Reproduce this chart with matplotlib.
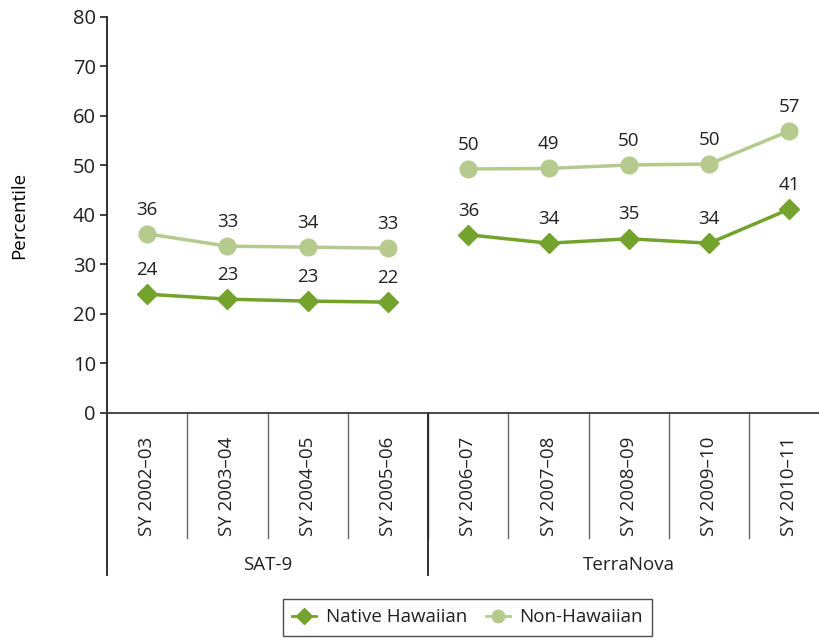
import numpy as np
import matplotlib.pyplot as plt

years = ['SY 2002–03', 'SY 2003–04', 'SY 2004–05', 'SY 2005–06', 'SY 2006–07',
         'SY 2007–08', 'SY 2008–09', 'SY 2009–10', 'SY 2010–11']
groups = ['SAT-9', 'TerraNova']
group_sizes = [4, 5]

native = [24.0, 23.0, 22.6, 22.4, 36.0, 34.3, 35.2, 34.3, 41.2]
native_lbl = [24, 23, 23, 22, 36, 34, 35, 34, 41]
non_hawaiian = [36.2, 33.7, 33.5, 33.3, 49.3, 49.4, 50.1, 50.3, 57.0]
non_hawaiian_lbl = [36, 33, 34, 33, 50, 49, 50, 50, 57]

dark = '#73A22D'
light = '#B6CA8E'
ink = '#231F20'

plt.rcParams['font.family'] = ['Open Sans', 'DejaVu Sans']
plt.rcParams['text.color'] = ink

fig = plt.figure(figsize=(8.2, 6.41), dpi=100)
ax = fig.add_axes([0.1305, 0.3557, 0.8695, 0.6178])

x = np.arange(len(years))
idx1 = np.arange(group_sizes[0])
idx2 = np.arange(group_sizes[0], len(years))
native = np.array(native)
non_hawaiian = np.array(non_hawaiian)

for idx in (idx1, idx2):
    ax.plot(x[idx], non_hawaiian[idx], color=light, lw=2.5, marker='o', ms=12,
            zorder=3)
    ax.plot(x[idx], native[idx], color=dark, lw=2.5, marker='D', ms=10,
            zorder=3)

fs = 13.5
for i in x:
    ax.annotate(str(non_hawaiian_lbl[i]), (i, non_hawaiian[i]), xytext=(0, 11),
                textcoords='offset points', ha='center', va='bottom', fontsize=fs)
    ax.annotate(str(native_lbl[i]), (i, native[i]), xytext=(0, 11),
                textcoords='offset points', ha='center', va='bottom', fontsize=fs)

ax.set_ylim(0, 80)
ax.set_xlim(-0.5, 8.38)
ax.set_yticks(range(0, 81, 10))
ax.set_xticks(x)
ax.set_xticklabels(years, rotation=90, fontsize=fs)
ax.tick_params(axis='x', length=0, pad=17, colors=ink)
ax.tick_params(axis='y', length=5, width=1.2, colors=ink, labelsize=14.5, pad=3)
ax.set_ylabel('Percentile', fontsize=fs, labelpad=32)

for s in ['top', 'right']:
    ax.spines[s].set_visible(False)
ax.spines['left'].set_color(ink)
ax.spines['left'].set_linewidth(1.3)
ax.spines['bottom'].set_color('#3a3a3a')
ax.spines['bottom'].set_linewidth(1.3)

# separators under the axis
tr = ax.get_xaxis_transform()
for k in range(len(years)):
    ax.plot([k + 0.5, k + 0.5], [0, -0.316], transform=tr, clip_on=False,
            color='#666666', lw=1)
ax.plot([-0.5, -0.5], [0, -0.409], transform=tr, clip_on=False, color=ink, lw=1.3)
ax.plot([3.5, 3.5], [0, -0.409], transform=tr, clip_on=False, color=ink, lw=1.3)

start = 0
for g, n in zip(groups, group_sizes):
    ax.text(start + (n - 1) / 2, -0.384, g, transform=tr, ha='center',
            va='center', fontsize=fs)
    start += n

h1, = ax.plot([], [], color=dark, lw=2, marker='D', ms=8, label='Native Hawaiian')
h2, = ax.plot([], [], color=light, lw=2, marker='o', ms=9, label='Non-Hawaiian')
leg = fig.legend(handles=[h1, h2], loc='upper center', bbox_to_anchor=(0.57, 0.08),
                 ncol=2, fontsize=fs, frameon=True, fancybox=False,
                 handlelength=1.3, handletextpad=0.5, columnspacing=1.0,
                 borderpad=0.5)
leg.get_frame().set_edgecolor(ink)
leg.get_frame().set_linewidth(1)

fig.savefig('out.png', dpi=100)
